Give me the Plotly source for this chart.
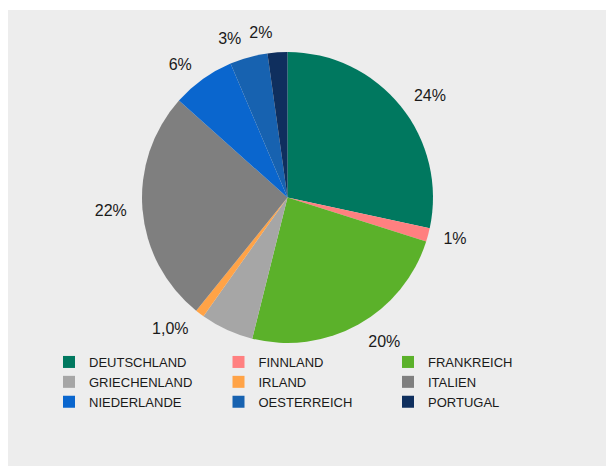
import plotly.graph_objects as go

# Data
countries = ["DEUTSCHLAND", "FINNLAND", "FRANKREICH", "GRIECHENLAND", "IRLAND",
             "ITALIEN", "NIEDERLANDE", "OESTERREICH", "PORTUGAL"]
shares = [28.4, 1.5, 24.0, 5.9, 1.0, 25.8, 7.0, 4.2, 2.2]
label_texts = ["24%", "1%", "20%", "", "1,0%", "22%", "6%", "3%", "2%"]
colors = ["#00785F", "#FF8080", "#5BB12A", "#A6A6A6", "#FFA347",
          "#7F7F7F", "#0A66CE", "#1762B0", "#0F2F5E"]

# the page body adds an 8px offset; the figure is sized to fill the rest
W, H = 606, 458
FONT = "Liberation Sans, Arial, sans-serif"

cx, cy, r = 279.5, 189.5, 145.5   # pie centre and radius in px (figure coords)
r_lab = 157                        # radius used for label placement

def dom(rad):
    return dict(x=[(cx - rad) / W, (cx + rad) / W],
                y=[(H - cy - rad) / H, (H - cy + rad) / H])

# split labels into two groups so neighbouring small-slice labels are not scooted
group_b = {"PORTUGAL"}
texts_a = [t if c not in group_b else "" for c, t in zip(countries, label_texts)]
texts_b = [t if c in group_b else "" for c, t in zip(countries, label_texts)]

fig = go.Figure()
fig.add_trace(go.Pie(
    labels=countries, values=shares, sort=False, direction="clockwise",
    rotation=0, marker=dict(colors=colors, line=dict(width=0)),
    textinfo="none", domain=dom(r), hoverinfo="label+percent",
))
for texts in (texts_a, texts_b):
    fig.add_trace(go.Pie(
        labels=countries, values=shares, sort=False, direction="clockwise",
        rotation=0, marker=dict(colors=["rgba(0,0,0,0)"] * len(countries), line=dict(width=0)),
        text=texts, texttemplate="%{text}", textposition="outside",
        outsidetextfont=dict(family=FONT, size=16, color="#1a1a1a"),
        domain=dom(r_lab), showlegend=False, hoverinfo="skip",
    ))

fig.update_layout(
    width=W, height=H,
    margin=dict(l=0, r=0, t=0, b=0),
    paper_bgcolor="#EDEDED",
    font=dict(family=FONT, size=13, color="#1a1a1a"),
    legend=dict(orientation="h", x=41 / W, xanchor="left", y=1 - 339 / H, yanchor="top",
                entrywidth=124.5, font=dict(family=FONT, size=13, color="#1a1a1a"),
                bgcolor="rgba(0,0,0,0)", traceorder="normal"),
    shapes=[dict(type="rect", xref="paper", yref="paper", x0=0, x1=1, y0=1 - 2 / H, y1=1,
                 fillcolor="white", line=dict(width=0), layer="below")],
)

fig.write_html("out.html")
